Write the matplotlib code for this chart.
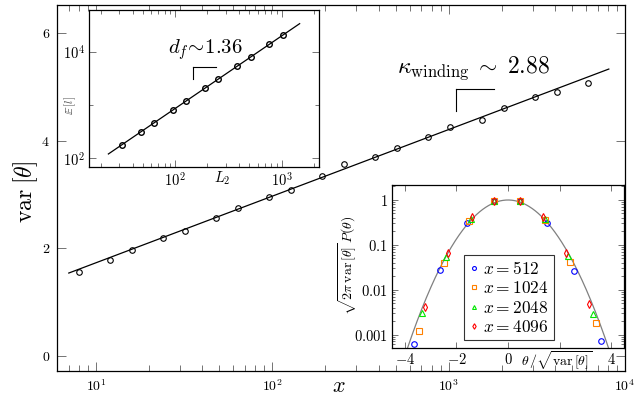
import numpy as np
import matplotlib
matplotlib.use('Agg')
import matplotlib.pyplot as plt
from matplotlib.ticker import FixedLocator, LogLocator, NullFormatter

plt.rcParams['mathtext.fontset'] = 'cm'
plt.rcParams['font.family'] = 'serif'
plt.rcParams['font.serif'] = ['cmr10', 'DejaVu Serif']
plt.rcParams['axes.formatter.use_mathtext'] = True

# main plot: var[theta] vs x
x_main = [8, 12, 16, 24, 32, 48, 64, 96, 128, 192, 256, 384, 512, 768,
          1024, 1536, 2048, 3072, 4096, 6144]
var_main = [1.56, 1.78, 1.96, 2.20, 2.33, 2.56, 2.74, 2.95, 3.09, 3.35,
            3.56, 3.70, 3.86, 4.07, 4.25, 4.38, 4.60, 4.81, 4.91, 5.08]
fit_main_x = [7, 8100]
fit_main_y = [1.54, 5.33]

# inset 1: E[l] vs L_2
L2 = [32, 48, 64, 96, 128, 192, 256, 384, 512, 768, 1024]
El = [178, 311, 459, 805, 1205, 2085, 3075, 5320, 7850, 13770, 20300]
fit_in_x = [23.7, 1480]
fit_in_y = [121, 33300]

# inset 2: rescaled distributions
t512 = [-3.65, -2.62, -1.59, -0.56, 0.47, 1.53, 2.55, 3.59]
p512 = [0.00061, 0.028, 0.30, 0.95, 0.95, 0.31, 0.026, 0.00072]
t1024 = [-3.47, -2.50, -1.50, -0.55, 0.46, 1.45, 2.42, 3.41]
p1024 = [0.0012, 0.040, 0.345, 0.95, 0.95, 0.36, 0.041, 0.00176]
t2048 = [-3.33, -2.40, -1.43, -0.55, 0.45, 1.42, 2.32, 3.28]
p2048 = [0.0030, 0.053, 0.38, 0.94, 0.94, 0.37, 0.056, 0.0028]
t4096 = [-3.22, -2.31, -1.38, -0.54, 0.45, 1.35, 2.25, 3.15]
p4096 = [0.0041, 0.065, 0.41, 0.93, 0.93, 0.41, 0.067, 0.0049]

tick_col = '0.45'


def style(ax, major, minor):
    ax.tick_params(which='both', direction='in', top=True, right=True,
                   color=tick_col, width=0.7)
    ax.tick_params(which='major', length=major)
    ax.tick_params(which='minor', length=minor)
    for s in ax.spines.values():
        s.set_linewidth(0.9)


fig = plt.figure(figsize=(6.36, 4.0), dpi=100)

# ---- main
ax = fig.add_axes([0.0896, 0.0725, 0.893, 0.915])
ax.set_xscale('log')
ax.plot(fit_main_x, fit_main_y, color='k', lw=0.9)
ax.plot(x_main, var_main, 'o', mfc='none', mec='k', ms=4, mew=0.8)
ax.set_xlim(6, 1e4)
ax.set_ylim(-0.28, 6.52)
ax.yaxis.set_major_locator(FixedLocator([0, 2, 4, 6]))
ax.set_yticklabels([r'$%d$' % v for v in [0, 2, 4, 6]])
ax.xaxis.set_major_locator(FixedLocator([10, 100, 1000, 10000]))
ax.set_xticklabels([r'$10^{%d}$' % k for k in [1, 2, 3, 4]])
ax.xaxis.set_minor_locator(LogLocator(base=10, subs=np.arange(2, 10), numticks=20))
ax.xaxis.set_minor_formatter(NullFormatter())
style(ax, 6.5, 4.3)
ax.tick_params(labelsize=10, pad=5)
ax.text(-0.056, 0.49, r'$\mathrm{var}\;[\theta]$', transform=ax.transAxes,
        rotation=90, ha='center', va='center', fontsize=17)
ax.text(0.497, -0.0574, r'$x$', transform=ax.transAxes,
        ha='center', va='baseline', fontsize=16)
ax.plot([0.7025, 0.769], [0.7705, 0.7705], transform=ax.transAxes, color='k', lw=0.8)
ax.plot([0.7025, 0.7025], [0.7705, 0.710], transform=ax.transAxes, color='k', lw=0.8)
ax.text(0.733, 0.826, r'$\kappa_{\mathrm{winding}}\;\sim\;2.88$', transform=ax.transAxes,
        ha='center', va='center', fontsize=17)

# ---- inset 1
a1 = fig.add_axes([0.140, 0.5825, 0.3616, 0.3925])
a1.set_xscale('log')
a1.set_yscale('log')
a1.plot(fit_in_x, fit_in_y, color='k', lw=0.9)
a1.plot(L2, El, 'o', mfc='none', mec='k', ms=4, mew=1.0)
a1.set_xlim(15.6, 2250)
a1.set_ylim(69, 60000)
a1.xaxis.set_major_locator(FixedLocator([100, 1000]))
a1.set_xticklabels([r'$10^{2}$', r'$10^{3}$'])
a1.yaxis.set_major_locator(FixedLocator([100, 10000]))
a1.set_yticklabels([r'$10^{2}$', r'$10^{4}$'])
a1.xaxis.set_minor_locator(LogLocator(base=10, subs=np.arange(2, 10), numticks=20))
a1.yaxis.set_minor_locator(FixedLocator([1000, 100000]))
a1.xaxis.set_minor_formatter(NullFormatter())
a1.yaxis.set_minor_formatter(NullFormatter())
style(a1, 5, 3)
a1.tick_params(labelsize=10.5, pad=3)
a1.text(-0.083, 0.394, r'$\mathbb{E}\,[l]$', transform=a1.transAxes, rotation=90,
        ha='center', va='center', fontsize=8, color='0.3')
a1.text(0.578, -0.072, r'$L_2$', transform=a1.transAxes, ha='center', va='center',
        fontsize=10.5)
a1.plot([0.4535, 0.552], [0.634, 0.634], transform=a1.transAxes, color='k', lw=0.8)
a1.plot([0.4535, 0.4535], [0.634, 0.560], transform=a1.transAxes, color='k', lw=0.8)
a1.text(0.504, 0.745, r'$d_f\!\sim\!1.36$', transform=a1.transAxes,
        ha='center', va='center', fontsize=15)

# ---- inset 2
a2 = fig.add_axes([0.6164, 0.13, 0.3648, 0.4075])
a2.set_yscale('log')
tt = np.linspace(-4.5, 4.5, 400)
a2.plot(tt, np.exp(-tt ** 2 / 2), color='0.5', lw=0.9)
a2.plot(t512, p512, 'o', ls='none', mfc='none', mec='blue', ms=4, mew=0.8,
        label=r'$x=512$')
a2.plot(t1024, p1024, 's', ls='none', mfc='none', mec=(1, 0.5, 0), ms=4, mew=0.8,
        label=r'$x=1024$')
a2.plot(t2048, p2048, '^', ls='none', mfc='none', mec=(0, 0.9, 0), ms=4, mew=0.8,
        label=r'$x=2048$')
a2.plot(t4096, p4096, 'd', ls='none', mfc='none', mec='red', ms=4, mew=0.8,
        label=r'$x=4096$')
a2.set_xlim(-4.5, 4.5)
a2.set_ylim(0.0005, 2.16)
a2.xaxis.set_major_locator(FixedLocator([-4, -2, 0, 2, 4]))
a2.set_xticklabels([r'$-4$', r'$-2$', r'$0$', '', r'$4$'])
a2.yaxis.set_major_locator(FixedLocator([0.001, 0.01, 0.1, 1]))
a2.set_yticklabels([r'$0.001$', r'$0.01$', r'$0.1$', r'$1$'])
a2.yaxis.set_minor_locator(LogLocator(base=10, subs=np.arange(2, 10), numticks=20))
a2.yaxis.set_minor_formatter(NullFormatter())
style(a2, 4, 2.5)
a2.tick_params(labelsize=10.5, pad=3)
a2.text(-0.19, 0.51, r'$\sqrt{2\pi\,\mathrm{var}\,[\theta]}\,P(\theta)$',
        transform=a2.transAxes, rotation=90, ha='center', va='center', fontsize=10)
a2.text(0.711, -0.08, r'$\theta\,/\sqrt{\mathrm{var}\,[\theta]}$', transform=a2.transAxes,
        ha='center', va='center', fontsize=10)
leg = a2.legend(loc='center', bbox_to_anchor=(0.504, 0.31), fontsize=12.5,
                frameon=True, fancybox=False, edgecolor='k', handlelength=0.5,
                handletextpad=0.3, borderpad=0.3, labelspacing=0.2,
                markerscale=0.7)
leg.get_frame().set_linewidth(0.8)

fig.savefig('out.png', dpi=100)
